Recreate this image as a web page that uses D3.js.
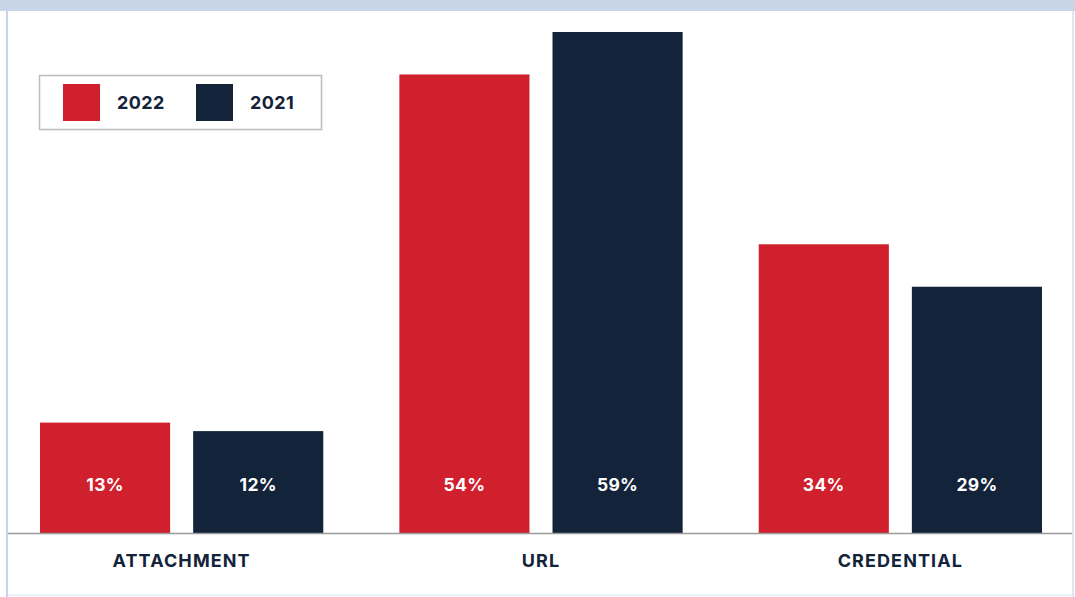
<!DOCTYPE html>
<html>
<head>
<meta charset="utf-8">
<script src="https://cdn.jsdelivr.net/npm/d3@7"></script>
<style>
  html, body { margin: 0; padding: 0; background: #ffffff; }
  svg { display: block; font-family: Inter, "Noto Sans", sans-serif; }
</style>
</head>
<body>
<svg id="chart" width="1075" height="597"></svg>
<script>
// Share of phishing attempts by attack type
const categories = ["ATTACHMENT", "URL", "CREDENTIAL"];
const years = ["2022", "2021"];
const values2022 = [13, 54, 34];
const values2021 = [12, 59, 29];

const colors = { "2022": "#d0202e", "2021": "#12233a" };
const textColor = "#13233a";

const W = 1075, H = 597;
const svg = d3.select("#chart");

// frame: header band and thin side/bottom rules
svg.append("rect").attr("x", 0).attr("y", 0).attr("width", W).attr("height", 11).attr("fill", "#c8d4e8");
svg.append("rect").attr("x", 6).attr("y", 11).attr("width", 2).attr("height", H - 11).attr("fill", "#c8d4e8");
svg.append("rect").attr("x", 1072).attr("y", 11).attr("width", 2).attr("height", H - 11).attr("fill", "#dfe6f2");
svg.append("rect").attr("x", 8).attr("y", 594).attr("width", 1064).attr("height", 2).attr("fill", "#eef1f7");

const baseline = 533;
const y = d3.scaleLinear().domain([0, 59]).range([baseline, 32]);

const x0 = d3.scaleBand().domain(categories).range([40, 1042]).paddingInner(76 / 359).paddingOuter(0);
const x1 = d3.scaleBand().domain(years).range([0, x0.bandwidth()]).paddingInner(23 / 153).paddingOuter(0);

const rows = categories.map((c, i) => ({
  category: c,
  bars: [
    { year: "2022", value: values2022[i] },
    { year: "2021", value: values2021[i] }
  ]
}));

const groups = svg.append("g").selectAll("g")
  .data(rows).join("g")
  .attr("transform", d => `translate(${x0(d.category)},0)`);

groups.selectAll("rect")
  .data(d => d.bars).join("rect")
  .attr("x", d => x1(d.year))
  .attr("y", d => y(d.value))
  .attr("width", x1.bandwidth())
  .attr("height", d => baseline - y(d.value))
  .attr("fill", d => colors[d.year]);

groups.selectAll("text.value")
  .data(d => d.bars).join("text")
  .attr("class", "value")
  .attr("x", d => x1(d.year) + x1.bandwidth() / 2)
  .attr("y", 491)
  .attr("text-anchor", "middle")
  .attr("fill", "#ffffff")
  .attr("font-size", 17.5)
  .attr("font-weight", 700)
  .attr("letter-spacing", 0.3)
  .text(d => d.value + "%");

// baseline axis
const axis = svg.append("g").attr("transform", `translate(0,${baseline})`)
  .call(d3.axisBottom(x0).tickSize(0).tickPadding(23));
axis.select(".domain").remove();
axis.append("line").attr("x1", 8).attr("x2", 1072).attr("y1", 0.5).attr("y2", 0.5)
  .attr("stroke", "#9a9a9a").attr("stroke-width", 1.5);
axis.selectAll(".tick text")
  .attr("font-family", "Inter, 'Noto Sans', sans-serif")
  .attr("font-size", 18)
  .attr("font-weight", 700)
  .attr("fill", textColor)
  .attr("letter-spacing", 1.1)
  .attr("dy", "0.6em");

// legend
const legend = svg.append("g");
legend.append("rect").attr("x", 39.5).attr("y", 75.5).attr("width", 282).attr("height", 54)
  .attr("fill", "#ffffff").attr("stroke", "#bdbdbd").attr("stroke-width", 1.5);
const legendX = [63, 196];
years.forEach((yr, i) => {
  legend.append("rect").attr("x", legendX[i]).attr("y", 84).attr("width", 37).attr("height", 37).attr("fill", colors[yr]);
  legend.append("text").attr("x", legendX[i] + 54).attr("y", 108.5)
    .attr("font-size", 18).attr("font-weight", 700).attr("fill", textColor)
    .attr("letter-spacing", 0.4)
    .text(yr);
});
</script>
</body>
</html>
